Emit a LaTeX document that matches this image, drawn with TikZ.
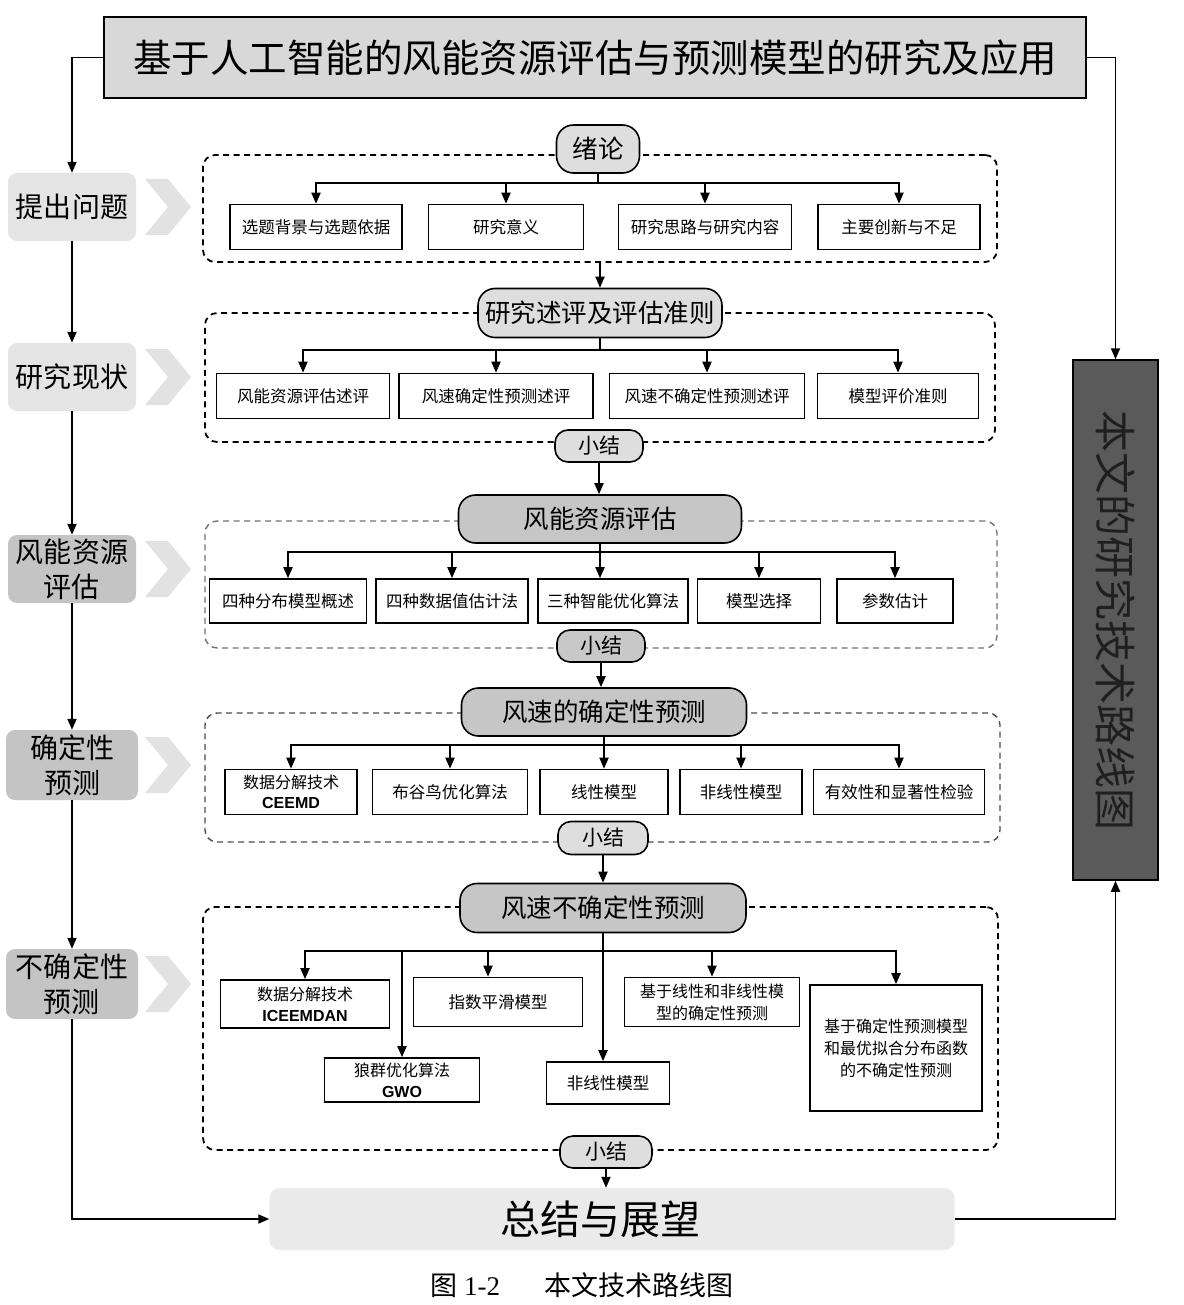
\documentclass[tikz,border=0pt]{standalone}
\usepackage{fontspec}
\setmainfont{Noto Sans CJK SC}
\newfontfamily\lsans{Liberation Sans}
\newfontfamily\lserif{Liberation Serif}
\usetikzlibrary{arrows.meta}
\definecolor{titlegray}{HTML}{D8D8D8}
\definecolor{lightpill}{HTML}{DEDEDE}
\definecolor{midpill}{HTML}{C6C6C6}
\definecolor{labl}{HTML}{E4E4E4}
\definecolor{labd}{HTML}{C4C4C4}
\definecolor{chevgray}{HTML}{E2E2E2}
\definecolor{darkbox}{HTML}{5A5A5A}
\definecolor{sumgray}{HTML}{EAEAEA}
\begin{document}
\begin{tikzpicture}[x=1pt,y=-1pt,
  box/.style={draw, line width=1.6pt, fill=white, inner sep=0pt, align=center, font=\fontsize{16.5}{21}\selectfont},
  pill/.style={draw, line width=1.6pt, rounded corners=17pt, inner sep=0pt, font=\fontsize{25.5}{28}\selectfont},
  sumpill/.style={draw, line width=1.6pt, rounded corners=13pt, inner sep=0pt, fill=lightpill, font=\fontsize{21}{24}\selectfont, minimum width=90, minimum height=32},
  dbox/.style={draw, line width=1.8pt, dash pattern=on 6pt off 4.5pt, rounded corners=12pt, inner sep=0pt},
  ln/.style={line width=1.8pt},
  arr/.style={line width=1.8pt, -{Triangle[length=11pt,width=9pt]}},
  lab/.style={rounded corners=9pt, inner sep=0pt, align=center, font=\fontsize{28}{35}\selectfont, minimum width=128, minimum height=68}
]
\useasboundingbox (0,0) rectangle (1183,1305);
\fill[white] (0,0) rectangle (1183,1305);

% title
\node[draw, line width=2pt, fill=titlegray, minimum width=982, minimum height=81, inner sep=0pt,
      font=\fontsize{38.5}{41}\selectfont] (title) at (595,57.5) {基于人工智能的风能资源评估与预测模型的研究及应用};

% left labels
\node[lab, fill=labl] (L1) at (72,207) {提出问题};
\node[lab, fill=labl] (L2) at (72,377) {研究现状};
\node[lab, fill=labd] (L3) at (72,569) {风能资源\\评估};
\node[lab, fill=labd, minimum width=132, minimum height=70] (L4) at (72,765) {确定性\\预测};
\node[lab, fill=labd, minimum width=132, minimum height=70] (L5) at (72,984) {不确定性\\预测};
\foreach \yy in {207,377,569,765,984}
  \fill[chevgray] (145,\yy-28) -- (168,\yy-28) -- (191,\yy) -- (168,\yy+28) -- (145,\yy+28) -- (168,\yy) -- cycle;

% right dark box
\node[draw, line width=1.5pt, fill=darkbox, minimum width=85, minimum height=520, inner sep=0pt] (dark) at (1115.5,620) {};
\node[rotate=-90, text=black!88, font=\fontsize{42}{44}\selectfont, inner sep=0pt] (darklbl) at (dark.center) {本文的研究技术路线图};

% summary box
\node[fill=sumgray, rounded corners=10pt, minimum width=685, minimum height=62, inner sep=0pt,
      font=\fontsize{40}{44}\selectfont] (sum) at (612,1219) {\hspace*{-24pt}总结与展望};

% caption
\node[font=\fontsize{27}{30}\selectfont, inner sep=0pt] (cap) at (582,1285) {图 {\lserif 1-2}\hspace{44pt}本文技术路线图};

% ---------- section 1
\node[dbox, minimum width=794, minimum height=107] (d1) at (600,208.5) {};
\node[pill, fill=lightpill, minimum width=83, minimum height=48] (p1) at (598,149) {绪论};
\node[box, minimum width=172, minimum height=45] (a1) at (316,227) {选题背景与选题依据};
\node[box, minimum width=155, minimum height=45] (a2) at (506,227) {研究意义};
\node[box, minimum width=173, minimum height=45] (a3) at (705,227) {研究思路与研究内容};
\node[box, minimum width=162, minimum height=45] (a4) at (899,227) {主要创新与不足};
\coordinate (bus1) at (0,183);
\draw[ln] (p1.south) -- (p1.south |- bus1);
\draw[arr] (a4.north |- bus1) -- (a1.north |- bus1) -- (a1.north);
\draw[arr] (a1.north |- bus1) -- (a4.north |- bus1) -- (a4.north);
\foreach \n in {a2,a3} \draw[arr] (\n.north |- bus1) -- (\n.north);

% ---------- section 2
\node[dbox, minimum width=790, minimum height=129] (d2) at (600,377.5) {};
\node[pill, fill=lightpill, minimum width=244, minimum height=49] (p2) at (600,313) {研究述评及评估准则};
\draw[arr] (d1.south) -- (p2.north);
\node[box, minimum width=173, minimum height=45] (b1) at (303,396) {风能资源评估述评};
\node[box, minimum width=194, minimum height=45] (b2) at (496,396) {风速确定性预测述评};
\node[box, minimum width=195, minimum height=45] (b3) at (707,396) {风速不确定性预测述评};
\node[box, minimum width=161, minimum height=45] (b4) at (898,396) {模型评价准则};
\coordinate (bus2) at (0,350);
\draw[ln] (p2.south) -- (p2.south |- bus2);
\draw[arr] (b4.north |- bus2) -- (b1.north |- bus2) -- (b1.north);
\draw[arr] (b1.north |- bus2) -- (b4.north |- bus2) -- (b4.north);
\foreach \n in {b2,b3} \draw[arr] (\n.north |- bus2) -- (\n.north);
\node[sumpill, minimum width=88] (s2) at (599,446) {小结};

% ---------- section 3
\node[dbox, draw=black!55, line width=1.4pt, minimum width=792, minimum height=127] (d3) at (601,584.5) {};
\node[pill, fill=midpill, minimum width=283, minimum height=48] (p3) at (600,519) {风能资源评估};
\draw[arr] (s2.south) -- (s2.south |- p3.north);
\node[box, minimum width=157, minimum height=44] (c1) at (288,601) {四种分布模型概述};
\node[box, minimum width=152, minimum height=44] (c2) at (452,601) {四种数据值估计法};
\node[box, minimum width=150, minimum height=44] (c3) at (613,601) {三种智能优化算法};
\node[box, minimum width=123, minimum height=44] (c4) at (759,601) {模型选择};
\node[box, minimum width=116, minimum height=44] (c5) at (895,601) {参数估计};
\coordinate (bus3) at (0,552);
\draw[arr] (p3.south) -- (p3.south |- c3.north);
\draw[arr] (c5.north |- bus3) -- (c1.north |- bus3) -- (c1.north);
\draw[arr] (c1.north |- bus3) -- (c5.north |- bus3) -- (c5.north);
\foreach \n in {c2,c4} \draw[arr] (\n.north |- bus3) -- (\n.north);
\node[sumpill, fill=lightpill!90!black, minimum width=88] (s3) at (601,646) {小结};

% ---------- section 4
\node[dbox, draw=black!70, line width=1.4pt, minimum width=795, minimum height=129] (d4) at (602.5,777.5) {};
\node[pill, fill=midpill, minimum width=285, minimum height=48] (p4) at (604,712) {风速的确定性预测};
\draw[arr] (s3.south) -- (s3.south |- p4.north);
\node[box, minimum width=132, minimum height=45, font=\fontsize{16}{20}\selectfont] (q1) at (291,792) {数据分解技术\\{\lsans\bfseries CEEMD}};
\node[box, minimum width=155, minimum height=45] (q2) at (450,792) {布谷鸟优化算法};
\node[box, minimum width=128, minimum height=45] (q3) at (604,792) {线性模型};
\node[box, minimum width=122, minimum height=45] (q4) at (741,792) {非线性模型};
\node[box, minimum width=171, minimum height=45] (q5) at (899,792) {有效性和显著性检验};
\coordinate (bus4) at (0,745);
\draw[arr] (p4.south) -- (p4.south |- q3.north);
\draw[arr] (q5.north |- bus4) -- (q1.north |- bus4) -- (q1.north);
\draw[arr] (q1.north |- bus4) -- (q5.north |- bus4) -- (q5.north);
\foreach \n in {q2,q4} \draw[arr] (\n.north |- bus4) -- (\n.north);
\node[sumpill, minimum width=90, minimum height=33] (s4) at (603,838) {小结};

% ---------- section 5
\node[dbox, minimum width=795, minimum height=243] (d5) at (600.5,1028.5) {};
\node[pill, fill=midpill, minimum width=286, minimum height=49] (p5) at (603,908) {风速不确定性预测};
\draw[arr] (s4.south) -- (s4.south |- p5.north);
\node[box, minimum width=169, minimum height=48, font=\fontsize{16}{21}\selectfont] (r1) at (305,1004) {数据分解技术\\{\lsans\bfseries ICEEMDAN}};
\node[box, minimum width=155, minimum height=44, font=\fontsize{16}{21}\selectfont] (r2) at (402,1080) {狼群优化算法\\{\lsans\bfseries GWO}};
\node[box, minimum width=169, minimum height=49] (r3) at (498,1002) {指数平滑模型};
\node[box, minimum width=123, minimum height=42] (r4) at (608,1083) {非线性模型};
\node[box, minimum width=175, minimum height=49, font=\fontsize{16}{22}\selectfont] (r5) at (712,1002) {基于线性和非线性模\\型的确定性预测};
\node[box, minimum width=172, minimum height=126, font=\fontsize{16}{22}\selectfont] (r6) at (896,1048) {基于确定性预测模型\\和最优拟合分布函数\\的不确定性预测};
\coordinate (bus5) at (0,951);
\draw[arr] (p5.south) -- (p5.south |- r4.north);
\draw[arr] (r6.north |- bus5) -- (r1.north |- bus5) -- (r1.north);
\draw[arr] (r1.north |- bus5) -- (r6.north |- bus5) -- (r6.north);
\draw[arr] (r2.north |- bus5) -- (r2.north);
\draw[arr] ([xshift=-10pt]r3.north |- bus5) -- ([xshift=-10pt]r3.north);
\draw[arr] (r5.north |- bus5) -- (r5.north);
\node[sumpill, minimum width=92] (s5) at (606,1152) {小结};
\draw[arr] (s5.south) -- (s5.south |- sum.north);

% ---------- outer connectors
\draw[arr] (title.west) -| (L1.north);
\draw[arr] (L1.south) -- (L2.north);
\draw[arr] (L2.south) -- (L3.north);
\draw[arr] (L3.south) -- (L4.north);
\draw[arr] (L4.south) -- (L5.north);
\draw[arr] (L5.south) |- (sum.west);
\draw[arr] (title.east) -| (dark.north);
\draw[arr] (sum.east) -| (dark.south);
\end{tikzpicture}
\end{document}
